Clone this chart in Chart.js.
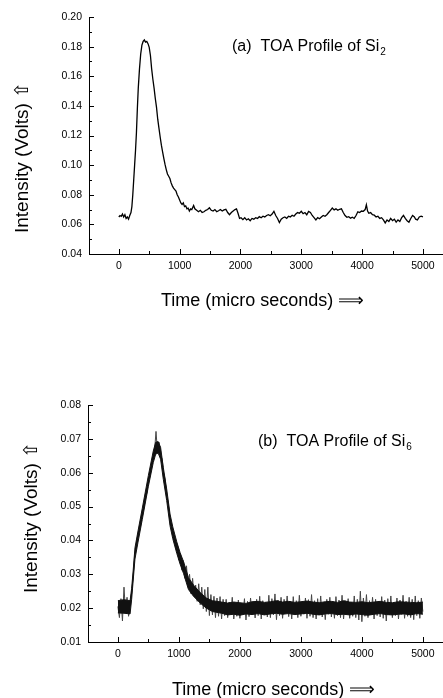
<!DOCTYPE html>
<html>
<head>
<meta charset="utf-8">
<script src="https://cdn.jsdelivr.net/npm/chart.js@4.4.0/dist/chart.umd.min.js"></script>
<style>
  body { margin: 0; background: #fff; }
  canvas { display: block; }
</style>
</head>
<body>
<canvas id="si2Chart" width="443" height="330"></canvas>
<canvas id="si6Chart" width="443" height="368"></canvas>
<script>
// (a) TOA profile of Si2
const si2Time = [
  0, 20, 40, 60, 80, 100, 120, 140, 160, 180,
  200, 215, 230, 245, 260, 275, 290, 305, 320, 340,
  360, 380, 400, 420, 440, 460, 480, 500, 520, 540,
  560, 580, 600, 620, 640, 660, 680, 700, 720, 740,
  760, 780, 800, 820, 840, 860, 880, 900, 920, 940,
  960, 980, 1000, 1020, 1040, 1060, 1080, 1100, 1120, 1140,
  1160, 1180, 1200, 1230, 1250, 1280, 1310, 1340, 1370, 1400,
  1430, 1460, 1490, 1520, 1550, 1580, 1610, 1640, 1670, 1700,
  1730, 1760, 1790, 1820, 1850, 1880, 1910, 1935, 1960, 1985,
  2010, 2040, 2070, 2100, 2130, 2160, 2190, 2220, 2250, 2280,
  2310, 2340, 2370, 2400, 2430, 2460, 2490, 2520, 2550, 2580,
  2610, 2640, 2670, 2700, 2730, 2760, 2790, 2820, 2850, 2880,
  2910, 2940, 2970, 3000, 3030, 3060, 3090, 3120, 3150, 3180,
  3210, 3240, 3270, 3300, 3330, 3360, 3390, 3420, 3450, 3480,
  3510, 3540, 3570, 3600, 3630, 3660, 3690, 3720, 3750, 3780,
  3810, 3840, 3870, 3900, 3930, 3960, 3990, 4020, 4050, 4070,
  4090, 4110, 4140, 4170, 4200, 4230, 4260, 4290, 4320, 4350,
  4380, 4410, 4440, 4470, 4500, 4530, 4560, 4590, 4620, 4650,
  4680, 4710, 4740, 4770, 4800, 4830, 4860, 4880, 4910, 4940,
  4970, 5000
];
const si2Volts = [
  0.0650, 0.0660, 0.0655, 0.0670, 0.0650, 0.0665, 0.0640, 0.0650, 0.0635, 0.0660,
  0.0680, 0.0720, 0.0800, 0.0900, 0.1000, 0.1100, 0.1220, 0.1380, 0.1520, 0.1650,
  0.1750, 0.1810, 0.1835, 0.1845, 0.1830, 0.1835, 0.1820, 0.1795, 0.1740, 0.1650,
  0.1580, 0.1520, 0.1450, 0.1390, 0.1310, 0.1250, 0.1190, 0.1135, 0.1090, 0.1045,
  0.1005, 0.0970, 0.0940, 0.0925, 0.0910, 0.0880, 0.0860, 0.0845, 0.0835, 0.0825,
  0.0800, 0.0785, 0.0765, 0.0745, 0.0735, 0.0745, 0.0720, 0.0725, 0.0705, 0.0710,
  0.0690, 0.0705, 0.0700, 0.0728, 0.0705, 0.0695, 0.0685, 0.0695, 0.0680, 0.0685,
  0.0695, 0.0700, 0.0712, 0.0695, 0.0690, 0.0700, 0.0685, 0.0692, 0.0700, 0.0690,
  0.0698, 0.0702, 0.0680, 0.0665, 0.0680, 0.0690, 0.0700, 0.0705, 0.0675, 0.0640,
  0.0645, 0.0632, 0.0645, 0.0630, 0.0638, 0.0625, 0.0640, 0.0635, 0.0645, 0.0640,
  0.0652, 0.0645, 0.0655, 0.0650, 0.0660, 0.0665, 0.0658, 0.0670, 0.0688, 0.0660,
  0.0640, 0.0612, 0.0635, 0.0645, 0.0650, 0.0640, 0.0655, 0.0650, 0.0662, 0.0655,
  0.0670, 0.0680, 0.0675, 0.0688, 0.0672, 0.0680, 0.0665, 0.0688, 0.0680, 0.0660,
  0.0645, 0.0630, 0.0645, 0.0638, 0.0650, 0.0660, 0.0655, 0.0665, 0.0680, 0.0695,
  0.0710, 0.0698, 0.0705, 0.0695, 0.0702, 0.0705, 0.0680, 0.0660, 0.0648, 0.0652,
  0.0642, 0.0648, 0.0640, 0.0660, 0.0685, 0.0680, 0.0690, 0.0688, 0.0700, 0.0732,
  0.0690, 0.0675, 0.0680, 0.0665, 0.0662, 0.0650, 0.0655, 0.0640, 0.0645, 0.0630,
  0.0610, 0.0630, 0.0620, 0.0640, 0.0625, 0.0635, 0.0615, 0.0630, 0.0620, 0.0645,
  0.0660, 0.0640, 0.0625, 0.0615, 0.0640, 0.0660, 0.0650, 0.0635, 0.0630, 0.0650,
  0.0655, 0.0650
];

// (b) TOA profile of Si6 - noisy trace, spikes
const si6Time = [
  0, 25, 50, 75, 100, 125, 150, 175, 200, 225,
  250, 275, 300, 325, 350, 375, 400, 425, 450, 475,
  500, 525, 550, 575, 600, 625, 650, 675, 700, 725,
  750, 775, 800, 825, 850, 875, 900, 925, 950, 975,
  1000, 1025, 1050, 1075, 1100, 1125, 1150, 1175, 1200, 1225,
  1250, 1275, 1300, 1325, 1350, 1375, 1400, 1425, 1450, 1475,
  1500, 1525, 1550, 1575, 1600, 1625, 1650, 1675, 1700, 1725,
  1750, 1775, 1800, 1825, 1850, 1875, 1900, 1925, 1950, 1975,
  2000, 2025, 2050, 2075, 2100, 2125, 2150, 2175, 2200, 2225,
  2250, 2275, 2300, 2325, 2350, 2375, 2400, 2425, 2450, 2475,
  2500, 2525, 2550, 2575, 2600, 2625, 2650, 2675, 2700, 2725,
  2750, 2775, 2800, 2825, 2850, 2875, 2900, 2925, 2950, 2975,
  3000, 3025, 3050, 3075, 3100, 3125, 3150, 3175, 3200, 3225,
  3250, 3275, 3300, 3325, 3350, 3375, 3400, 3425, 3450, 3475,
  3500, 3525, 3550, 3575, 3600, 3625, 3650, 3675, 3700, 3725,
  3750, 3775, 3800, 3825, 3850, 3875, 3900, 3925, 3950, 3975,
  4000, 4025, 4050, 4075, 4100, 4125, 4150, 4175, 4200, 4225,
  4250, 4275, 4300, 4325, 4350, 4375, 4400, 4425, 4450, 4475,
  4500, 4525, 4550, 4575, 4600, 4625, 4650, 4675, 4700, 4725,
  4750, 4775, 4800, 4825, 4850, 4875, 4900, 4925, 4950, 4975,
  5000
];
const si6Volts = [
  0.0205, 0.0172, 0.0228, 0.0162, 0.0262, 0.0188, 0.0232, 0.0176, 0.0212, 0.0245,
  0.0292, 0.0358, 0.0378, 0.0415, 0.0428, 0.0450, 0.0482, 0.0495, 0.0525, 0.0540,
  0.0578, 0.0590, 0.0618, 0.0640, 0.0662, 0.0722, 0.0660, 0.0690, 0.0652, 0.0640,
  0.0598, 0.0580, 0.0530, 0.0512, 0.0462, 0.0448, 0.0420, 0.0410, 0.0378, 0.0388,
  0.0342, 0.0360, 0.0312, 0.0340, 0.0288, 0.0325, 0.0262, 0.0300, 0.0242, 0.0288,
  0.0235, 0.0268, 0.0220, 0.0272, 0.0210, 0.0262, 0.0198, 0.0255, 0.0190, 0.0262,
  0.0178, 0.0240, 0.0180, 0.0235, 0.0172, 0.0230, 0.0176, 0.0234, 0.0168, 0.0226,
  0.0178, 0.0226, 0.0172, 0.0218, 0.0185, 0.0232, 0.0168, 0.0215, 0.0176, 0.0224,
  0.0170, 0.0212, 0.0182, 0.0228, 0.0165, 0.0220, 0.0175, 0.0230, 0.0180, 0.0214,
  0.0171, 0.0226, 0.0178, 0.0235, 0.0168, 0.0222, 0.0184, 0.0218, 0.0174, 0.0238,
  0.0172, 0.0228, 0.0180, 0.0242, 0.0166, 0.0224, 0.0178, 0.0232, 0.0170, 0.0226,
  0.0186, 0.0236, 0.0175, 0.0220, 0.0168, 0.0234, 0.0180, 0.0222, 0.0172, 0.0238,
  0.0176, 0.0218, 0.0182, 0.0230, 0.0170, 0.0225, 0.0176, 0.0240, 0.0172, 0.0222,
  0.0168, 0.0228, 0.0180, 0.0236, 0.0174, 0.0216, 0.0166, 0.0226, 0.0182, 0.0232,
  0.0174, 0.0220, 0.0170, 0.0234, 0.0178, 0.0224, 0.0172, 0.0238, 0.0168, 0.0222,
  0.0184, 0.0228, 0.0170, 0.0218, 0.0176, 0.0236, 0.0172, 0.0226, 0.0165, 0.0250,
  0.0160, 0.0230, 0.0176, 0.0240, 0.0172, 0.0222, 0.0180, 0.0232, 0.0168, 0.0226,
  0.0178, 0.0220, 0.0174, 0.0234, 0.0170, 0.0224, 0.0162, 0.0228, 0.0180, 0.0236,
  0.0172, 0.0218, 0.0178, 0.0230, 0.0168, 0.0224, 0.0182, 0.0238, 0.0170, 0.0220,
  0.0176, 0.0232, 0.0172, 0.0226, 0.0166, 0.0236, 0.0178, 0.0222, 0.0170, 0.0230,
  0.0190
];
// dense black core of the Si6 trace: lower and upper edge
const si6CoreTime = [
  0, 100, 200, 225, 250, 280, 330, 400, 500, 580,
  620, 660, 700, 745, 800, 855, 900, 965, 1020, 1075,
  1157, 1240, 1350, 1450, 1550, 1700, 1800, 1900, 2000, 2100,
  2200, 2300, 2400, 2500, 2600, 2700, 2800, 2900, 3000, 3100,
  3200, 3300, 3400, 3500, 3600, 3700, 3800, 3900, 4000, 4100,
  4200, 4300, 4400, 4500, 4600, 4700, 4800, 4900, 5000
];
const si6CoreLow = [
  0.0186, 0.0185, 0.0183, 0.0225, 0.0280, 0.0345, 0.0395, 0.0462, 0.0560, 0.0630,
  0.0655, 0.0658, 0.0640, 0.0580, 0.0518, 0.0443, 0.0405, 0.0362, 0.0330, 0.0303,
  0.0255, 0.0235, 0.0215, 0.0200, 0.0190, 0.0185, 0.0180, 0.0182, 0.0179, 0.0183,
  0.0181, 0.0184, 0.0180, 0.0183, 0.0185, 0.0182, 0.0184, 0.0181, 0.0183, 0.0185,
  0.0182, 0.0180, 0.0183, 0.0184, 0.0181, 0.0182, 0.0180, 0.0183, 0.0181, 0.0179,
  0.0182, 0.0184, 0.0181, 0.0180, 0.0182, 0.0183, 0.0180, 0.0184, 0.0182
];
const si6CoreHigh = [
  0.0222, 0.0225, 0.0222, 0.0258, 0.0310, 0.0378, 0.0428, 0.0495, 0.0592, 0.0664,
  0.0690, 0.0692, 0.0675, 0.0615, 0.0552, 0.0478, 0.0440, 0.0396, 0.0364, 0.0338,
  0.0290, 0.0268, 0.0246, 0.0230, 0.0222, 0.0218, 0.0215, 0.0218, 0.0216, 0.0214,
  0.0219, 0.0220, 0.0217, 0.0219, 0.0222, 0.0218, 0.0220, 0.0217, 0.0219, 0.0221,
  0.0218, 0.0216, 0.0219, 0.0220, 0.0217, 0.0222, 0.0218, 0.0217, 0.0219, 0.0216,
  0.0218, 0.0220, 0.0217, 0.0216, 0.0219, 0.0218, 0.0217, 0.0216, 0.0218
];

// tick values
const timeMajorTicks = [0, 1000, 2000, 3000, 4000, 5000];
const timeMinorTicks = [500, 1500, 2500, 3500, 4500];
const si2MajorTicks = [0.04, 0.06, 0.08, 0.10, 0.12, 0.14, 0.16, 0.18, 0.20];
const si2MinorTicks = [0.05, 0.07, 0.09, 0.11, 0.13, 0.15, 0.17, 0.19];
const si6MajorTicks = [0.01, 0.02, 0.03, 0.04, 0.05, 0.06, 0.07, 0.08];
const si6MinorTicks = [0.015, 0.025, 0.035, 0.045, 0.055, 0.065, 0.075];

const FONT = '"Liberation Sans", Arial, Helvetica, sans-serif';

const pts = (xs, ys) => xs.map((t, i) => ({x: t, y: ys[i]}));

// tick marks point into the plot, like the original Origin graph
const innerTicks = {
    id: 'innerTicks',
    afterDraw(chart, args, opts) {
        const {ctx, chartArea: a, scales: {x, y}} = chart;
        ctx.save();
        ctx.strokeStyle = '#000';
        ctx.lineWidth = 1;
        ctx.beginPath();
        const xt = (list, len) => list.forEach(v => {
            const p = Math.round(x.getPixelForValue(v)) + 0.5;
            ctx.moveTo(p, a.bottom); ctx.lineTo(p, a.bottom - len);
        });
        const yt = (list, len) => list.forEach(v => {
            const p = Math.round(y.getPixelForValue(v)) + 0.5;
            ctx.moveTo(a.left, p); ctx.lineTo(a.left + len, p);
        });
        xt(timeMajorTicks, 5); xt(timeMinorTicks, 3);
        yt(opts.major, 5); yt(opts.minor, 3);
        ctx.stroke();
        ctx.restore();
    }
};

// axis titles and the in-plot caption
const captions = {
    id: 'captions',
    afterDraw(chart, args, o) {
        const ctx = chart.ctx;
        ctx.save();
        ctx.fillStyle = '#000';
        ctx.textBaseline = 'alphabetic';
        ctx.textAlign = 'left';

        ctx.font = '18px ' + FONT;
        ctx.fillText('Time (micro seconds) \u27F9', o.xTitle[0], o.xTitle[1]);

        ctx.font = '16px ' + FONT;
        const main = o.label + '  TOA Profile of Si';
        ctx.fillText(main, o.cap[0], o.cap[1]);
        const w = ctx.measureText(main).width;
        ctx.font = '10px ' + FONT;
        ctx.fillText(o.sub, o.cap[0] + w + 1, o.cap[1] + 4);

        ctx.translate(o.yTitle[0], o.yTitle[1]);
        ctx.rotate(-Math.PI / 2);
        ctx.font = '19px ' + FONT;
        ctx.fillText('Intensity (Volts) \u21E7', 0, 0);
        ctx.restore();
    }
};

function renderProfile(canvasId, datasets, yMin, yMax, major, minor, padTop, xHeight, capOpts) {
    const ctx = document.getElementById(canvasId).getContext('2d');
    return new Chart(ctx, {
        type: 'scatter',
        data: { datasets: datasets },
        options: {
            responsive: false,
            animation: false,
            events: [],
            layout: { padding: { top: padTop, left: 0, right: 0, bottom: 0 } },
            plugins: {
                legend: { display: false },
                tooltip: { enabled: false },
                innerTicks: { major: major, minor: minor },
                captions: capOpts
            },
            scales: {
                x: {
                    type: 'linear',
                    min: -490,
                    max: 5330,
                    afterBuildTicks: s => { s.ticks = timeMajorTicks.map(v => ({value: v})); },
                    afterFit: s => { s.height = xHeight; },
                    grid: { display: false, drawTicks: false },
                    border: { display: true, color: '#000', width: 1 },
                    ticks: {
                        color: '#000',
                        padding: 6,
                        maxRotation: 0,
                        font: { family: FONT, size: 10.5 },
                        callback: v => String(v)
                    }
                },
                y: {
                    type: 'linear',
                    min: yMin,
                    max: yMax,
                    afterBuildTicks: s => { s.ticks = major.map(v => ({value: v})); },
                    afterFit: s => { s.width = capOpts.axisLeft; },
                    grid: { display: false, drawTicks: false },
                    border: { display: true, color: '#000', width: 1 },
                    ticks: {
                        color: '#000',
                        padding: 7,
                        font: { family: FONT, size: 10.5 },
                        callback: v => v.toFixed(2)
                    }
                }
            }
        },
        plugins: [innerTicks, captions]
    });
}

renderProfile('si2Chart', [{
    data: pts(si2Time, si2Volts),
    showLine: true, borderColor: '#000', borderWidth: 1.3, pointRadius: 0
}], 0.04, 0.20, si2MajorTicks, si2MinorTicks, 17, 76, {
    axisLeft: 89, label: '(a)', sub: '2',
    cap: [232, 51], xTitle: [161, 306], yTitle: [28, 233]
});

renderProfile('si6Chart', [{
    data: pts(si6CoreTime, si6CoreLow),
    showLine: true, borderColor: '#111', borderWidth: 1, pointRadius: 0, fill: false
}, {
    data: pts(si6CoreTime, si6CoreHigh),
    showLine: true, borderColor: '#111', borderWidth: 1, pointRadius: 0,
    fill: '-1', backgroundColor: '#111'
}, {
    data: pts(si6Time, si6Volts),
    showLine: true, borderColor: '#444', borderWidth: 1, pointRadius: 0
}], 0.01, 0.08, si6MajorTicks, si6MinorTicks, 75, 56, {
    axisLeft: 88, label: '(b)', sub: '6',
    cap: [258, 116], xTitle: [172, 365], yTitle: [37, 263]
});
</script>
</body>
</html>
